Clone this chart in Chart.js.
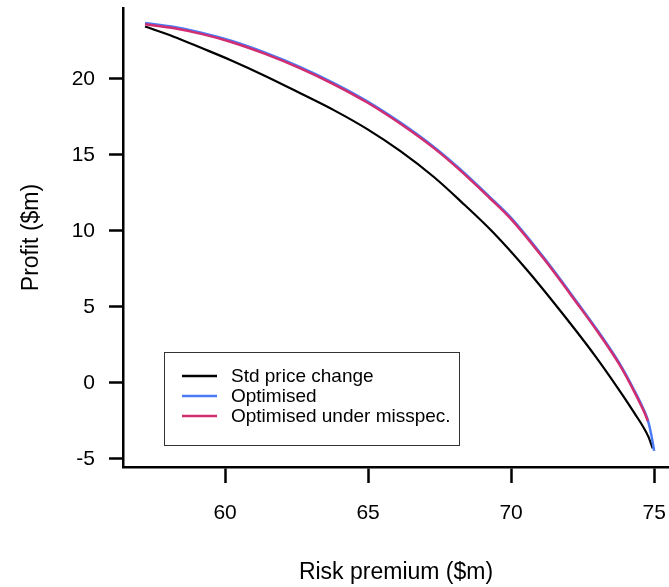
<!DOCTYPE html>
<html>
<head>
<meta charset="UTF-8">
<title>Profit vs risk premium</title>
<script src="https://cdn.jsdelivr.net/npm/chart.js@4.4.1/dist/chart.umd.min.js"></script>
<style>
  html, body { margin: 0; padding: 0; background: #fff; }
  canvas { display: block; }
</style>
</head>
<body>
<canvas id="chart" width="669" height="587"></canvas>
<script>
// Values (x = risk premium $m, y = profit $m)
const stdX = [57.20, 58.18, 59.2, 60.18, 61.4, 62.63, 63.80, 64.97, 66.13, 67.30, 68.24, 69.40, 70.57, 71.74, 72.91, 73.79, 74.3, 74.79, 74.95];
const stdY = [23.45, 22.8, 22.02, 21.25, 20.2, 19.06, 17.95, 16.7, 15.25, 13.55, 11.95, 9.85, 7.4, 4.7, 1.85, -0.5, -1.95, -3.5, -4.3];

const optX = [57.20, 58.18, 59.2, 60.18, 61.4, 62.63, 63.80, 64.97, 66.13, 67.30, 68.18, 69.23, 69.99, 71.15, 72.32, 73.05, 73.79, 74.3, 74.65, 74.78, 74.9, 75.0];
const optY = [23.68, 23.43, 23.03, 22.53, 21.73, 20.78, 19.73, 18.53, 17.13, 15.53, 14.13, 12.28, 10.88, 8.23, 5.28, 3.38, 1.28, -0.47, -1.82, -2.45, -3.4, -4.47];

const misX = [57.20, 58.18, 59.2, 60.18, 61.4, 62.63, 63.80, 64.97, 66.13, 67.30, 68.18, 69.23, 69.99, 71.15, 72.32, 73.05, 73.79, 74.3, 74.65, 74.78];
const misY = [23.60, 23.35, 22.95, 22.45, 21.65, 20.7, 19.65, 18.45, 17.05, 15.45, 14.05, 12.2, 10.8, 8.15, 5.2, 3.3, 1.2, -0.55, -1.9, -2.5];

const seriesNames = ['Std price change', 'Optimised', 'Optimised under misspec.'];
const seriesColors = ['#000000', '#4a7bf5', '#d12e72'];

const xTicks = [60, 65, 70, 75];
const yTicks = [-5, 0, 5, 10, 15, 20];

function toPoints(xs, ys) {
  return xs.map((x, i) => ({ x: x, y: ys[i] }));
}

const FONT = "'Liberation Sans', Arial, sans-serif";

// legend drawn inside the plot, R style box
const boxLegend = {
  id: 'boxLegend',
  afterDraw(chart) {
    const ctx = chart.ctx;
    ctx.save();
    ctx.strokeStyle = '#333';
    ctx.lineWidth = 1;
    ctx.strokeRect(164.5, 352.5, 295, 93);
    ctx.font = '19px ' + FONT;
    ctx.textBaseline = 'middle';
    ctx.textAlign = 'left';
    seriesNames.forEach((name, i) => {
      const y = 376 + i * 20;
      ctx.strokeStyle = seriesColors[i];
      ctx.lineWidth = 2.5;
      ctx.beginPath();
      ctx.moveTo(182, y);
      ctx.lineTo(217, y);
      ctx.stroke();
      ctx.fillStyle = '#000';
      ctx.fillText(name, 231, y + 1);
    });
    ctx.restore();
  }
};

const ds = (i, pts, order, width) => ({
  label: seriesNames[i],
  data: pts,
  borderColor: seriesColors[i],
  borderWidth: width,
  pointRadius: 0,
  showLine: true,
  fill: false,
  cubicInterpolationMode: 'monotone',
  order: order
});

new Chart(document.getElementById('chart'), {
  type: 'scatter',
  data: {
    datasets: [
      ds(0, toPoints(stdX, stdY), 2, 2.2),
      ds(1, toPoints(optX, optY), 1, 2.5),
      ds(2, toPoints(misX, misY), 0, 2.5)
    ]
  },
  options: {
    responsive: false,
    devicePixelRatio: 1,
    animation: false,
    layout: { padding: { top: 8, right: 0, left: 0, bottom: 0 } },
    plugins: {
      legend: { display: false },
      tooltip: { enabled: false }
    },
    scales: {
      x: {
        type: 'linear',
        min: 56.43,
        max: 75.52,
        afterFit(scale) {
          scale.height = 120;
          scale.paddingLeft = 0;
          scale.paddingRight = 0;
        },
        afterBuildTicks(scale) { scale.ticks = xTicks.map(v => ({ value: v })); },
        border: { display: true, color: '#000', width: 2.5 },
        grid: { drawOnChartArea: false, drawTicks: true, tickLength: 16, tickWidth: 2.5, tickColor: '#000' },
        ticks: { color: '#000', padding: 18, maxRotation: 0, font: { family: FONT, size: 21 } },
        title: { display: true, text: 'Risk premium ($m)', color: '#000', padding: { top: 0, bottom: 1 }, font: { family: FONT, size: 23 } }
      },
      y: {
        type: 'linear',
        min: -5.53,
        max: 24.67,
        afterFit(scale) {
          scale.width = 123;
          scale.paddingTop = 0;
          scale.paddingBottom = 0;
        },
        afterBuildTicks(scale) { scale.ticks = yTicks.map(v => ({ value: v })); },
        border: { display: true, color: '#000', width: 2.5 },
        grid: { drawOnChartArea: false, drawTicks: true, tickLength: 14, tickWidth: 2.5, tickColor: '#000' },
        ticks: { color: '#000', padding: 14, font: { family: FONT, size: 21 } },
        title: { display: true, text: 'Profit ($m)', color: '#000', padding: { top: 18, bottom: 0 }, font: { family: FONT, size: 23 } }
      }
    }
  },
  plugins: [boxLegend]
});
</script>
</body>
</html>
